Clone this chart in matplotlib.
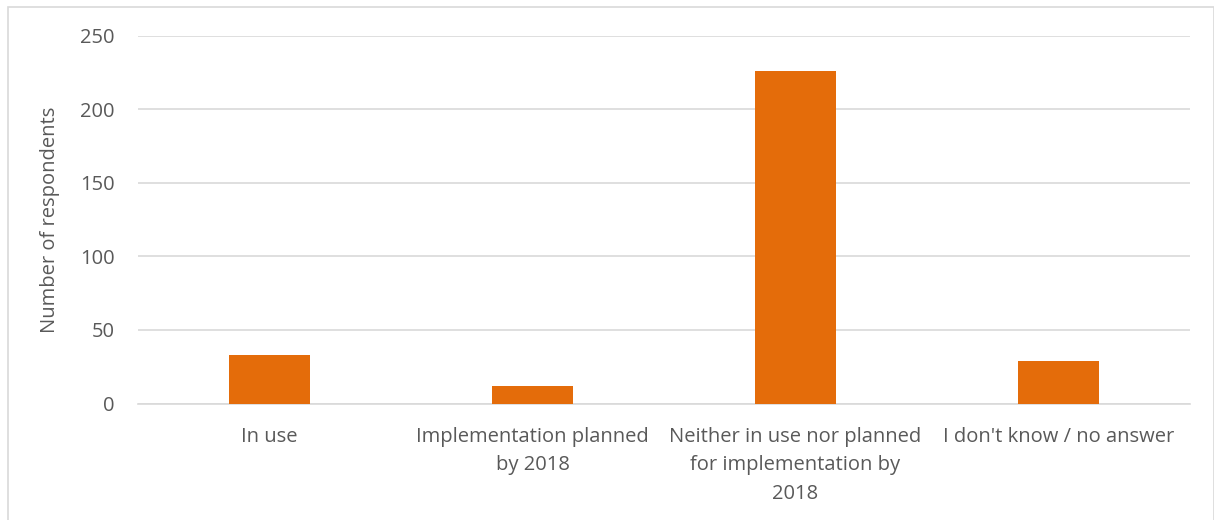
import matplotlib
matplotlib.use("Agg")
import matplotlib.pyplot as plt
from matplotlib.patches import Rectangle

categories = [
    "In use",
    "Implementation planned\nby 2018",
    "Neither in use nor planned\nfor implementation by\n2018",
    "I don't know / no answer",
]
respondents = [33, 12, 226, 29]
y_ticks = [0, 50, 100, 150, 200, 250]

bar_color = "#E46C0A"
text_color = "#595959"
grid_color = "#D9D9D9"

plt.rcParams["font.family"] = ["Open Sans", "DejaVu Sans"]
plt.rcParams["font.size"] = 14.5

fig = plt.figure(figsize=(12.14, 5.2), dpi=100)
ax = fig.add_axes([0.1137, 0.224, 0.8665, 0.707])

x = range(len(categories))
ax.bar(x, respondents, width=0.31, color=bar_color, zorder=3)

ax.set_xlim(-0.5, len(categories) - 0.5)
ax.set_ylim(0, 250)
ax.set_yticks(y_ticks)
ax.set_xticks(list(x))
ax.set_xticklabels(categories, color=text_color, linespacing=1.55)
ax.tick_params(axis="y", colors=text_color, length=0, pad=17)
ax.tick_params(axis="x", colors=text_color, length=0, pad=17)
for lbl in ax.get_yticklabels():
    lbl.set_color(text_color)

ax.yaxis.grid(True, color=grid_color, linewidth=1.2, zorder=0)
for side in ["top", "right", "left"]:
    ax.spines[side].set_visible(False)
ax.spines["bottom"].set_color(grid_color)
ax.spines["bottom"].set_linewidth(1.2)

ax.set_ylabel("Number of respondents", color=text_color, labelpad=14)

# light outline around the chart area (runs past the bottom edge)
fig.patches.append(Rectangle((8 / 1214, -0.05), 1 - 8 / 1214, 1.05 - 7 / 520,
                             transform=fig.transFigure, fill=False,
                             edgecolor="#D9D9D9", linewidth=1.2))

fig.savefig("out.png", dpi=100)
